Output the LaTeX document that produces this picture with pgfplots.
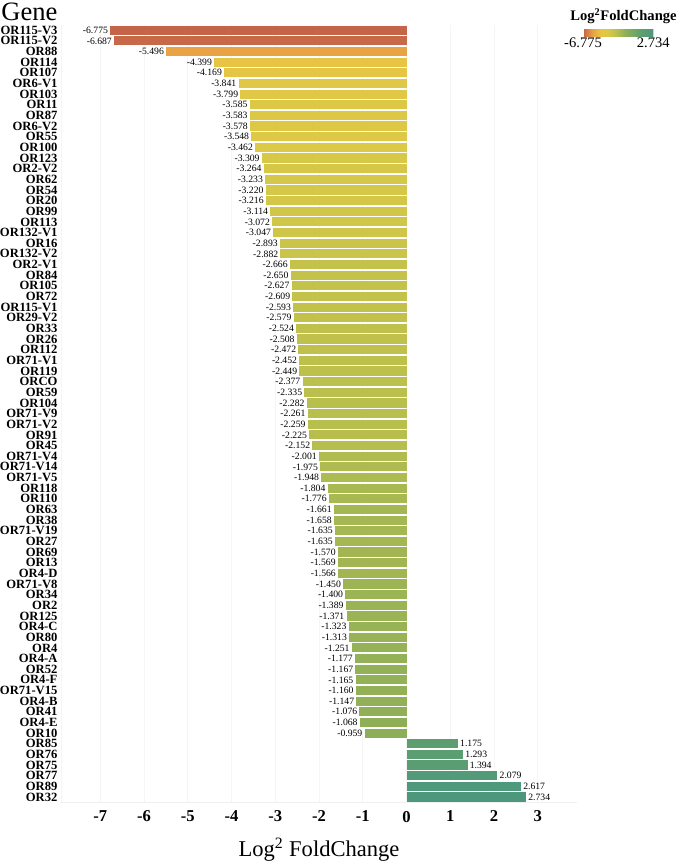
\documentclass[border=0pt]{standalone}
\usepackage{fontspec}
\setmainfont{Liberation Serif}
\usepackage{pgfplots}
\usepackage{pgfplotstable}
\pgfplotsset{compat=1.18}

\pgfplotsset{colormap={lfc}{
  rgb255(0cm)=(196,100,72);
  rgb255(1.28cm)=(233,162,68);
  rgb255(2.38cm)=(231,196,68);
  rgb255(3.3cm)=(220,201,70);
  rgb255(4.6cm)=(182,190,78);
  rgb255(5.8cm)=(140,174,88);
  rgb255(7.95cm)=(92,158,112);
  rgb255(9.509cm)=(77,152,125)}}

\pgfplotsset{lfcbar/.style={
    xbar, bar width=0.86, draw=none, forget plot,
    point meta=x,
    nodes near coords={\pgfmathprintnumber[fixed,zerofill,precision=3]{\pgfplotspointmeta}},
    nodes near coords align={horizontal},
    every node near coord/.append style={font=\fontsize{7.3}{7.3}\selectfont, inner xsep=1.5pt, text=black},
}}

\pgfplotstableread{
idx gene value
0 OR115-V3 -6.775
1 OR115-V2 -6.687
2 OR88 -5.496
3 OR114 -4.399
4 OR107 -4.169
5 OR6-V1 -3.841
6 OR103 -3.799
7 OR11 -3.585
8 OR87 -3.583
9 OR6-V2 -3.578
10 OR55 -3.548
11 OR100 -3.462
12 OR123 -3.309
13 OR2-V2 -3.264
14 OR62 -3.233
15 OR54 -3.220
16 OR20 -3.216
17 OR99 -3.114
18 OR113 -3.072
19 OR132-V1 -3.047
20 OR16 -2.893
21 OR132-V2 -2.882
22 OR2-V1 -2.666
23 OR84 -2.650
24 OR105 -2.627
25 OR72 -2.609
26 OR115-V1 -2.593
27 OR29-V2 -2.579
28 OR33 -2.524
29 OR26 -2.508
30 OR112 -2.472
31 OR71-V1 -2.452
32 OR119 -2.449
33 ORCO -2.377
34 OR59 -2.335
35 OR104 -2.282
36 OR71-V9 -2.261
37 OR71-V2 -2.259
38 OR91 -2.225
39 OR45 -2.152
40 OR71-V4 -2.001
41 OR71-V14 -1.975
42 OR71-V5 -1.948
43 OR118 -1.804
44 OR110 -1.776
45 OR63 -1.661
46 OR38 -1.658
47 OR71-V19 -1.635
48 OR27 -1.635
49 OR69 -1.570
50 OR13 -1.569
51 OR4-D -1.566
52 OR71-V8 -1.450
53 OR34 -1.400
54 OR2 -1.389
55 OR125 -1.371
56 OR4-C -1.323
57 OR80 -1.313
58 OR4 -1.251
59 OR4-A -1.177
60 OR52 -1.167
61 OR4-F -1.165
62 OR71-V15 -1.160
63 OR4-B -1.147
64 OR41 -1.076
65 OR4-E -1.068
66 OR10 -0.959
67 OR85 1.175
68 OR76 1.293
69 OR75 1.394
70 OR77 2.079
71 OR89 2.617
72 OR32 2.734
}\lfcdata

\begin{document}
\begin{tikzpicture}
\pgfkeys{/pgf/number format/assume math mode=true}
\begin{axis}[
    scale only axis,
    width=389pt, height=586pt,
    xmin=-7.9, xmax=3.9,
    ymin=-0.5, ymax=72.5, y dir=reverse,
    xtick={-7,...,3},
    ytick={0,...,72},
    yticklabels from table={\lfcdata}{gene},
    yticklabel style={font=\bfseries\fontsize{9.5}{9.5}\selectfont, inner xsep=0pt, xshift=-2.5pt},
    xticklabel style={font=\bfseries\fontsize{12.5}{12.5}\selectfont, yshift=-3pt},
    major tick length=0pt,
    xmajorgrids, grid style={draw=gray!8, line width=0.6pt},
    axis x line*=bottom, axis y line*=left,
    x axis line style={draw=gray!12, -},
    y axis line style={draw=gray!8, -},
    xlabel={Log\textsuperscript{2} FoldChange},
    xlabel style={font=\fontsize{17}{17}\selectfont, yshift=-5pt},
    colormap name=lfc,
    point meta min=-6.775, point meta max=2.734,
    colorbar horizontal,
    colorbar style={
        at={(1.0115,0.985)}, anchor=south west,
        width=53pt, height=5pt,
        xtick={-6.775,2.734}, xticklabels={-6.775,2.734},
        xticklabel style={font=\fontsize{11}{11}\selectfont, inner ysep=1pt},
        major tick length=0pt,
        axis line style={draw=none},
        title={Log\textsuperscript{2}FoldChange},
        title style={font=\bfseries\fontsize{11}{11}\selectfont, yshift=-5pt, xshift=4pt},
    },
]
\pgfplotsinvokeforeach{0,...,72}{
  \pgfplotstablegetelem{#1}{value}\of\lfcdata
  \let\bval\pgfplotsretval
  \pgfmathsetmacro\cval{max(0,min(1000,(\bval+6.775)/9.509*1000))}
  \edef\doplot{\noexpand\addplot[lfcbar, color of colormap={\cval of lfc}, fill]
    coordinates {(\bval,#1)};}
  \doplot
}
\end{axis}
\node[anchor=base east, inner xsep=0pt, inner ysep=2pt, font=\fontsize{20}{20}\selectfont] at ([xshift=-2.5pt, yshift=3.5pt]current axis.north west) {Gene};
\end{tikzpicture}
\end{document}
